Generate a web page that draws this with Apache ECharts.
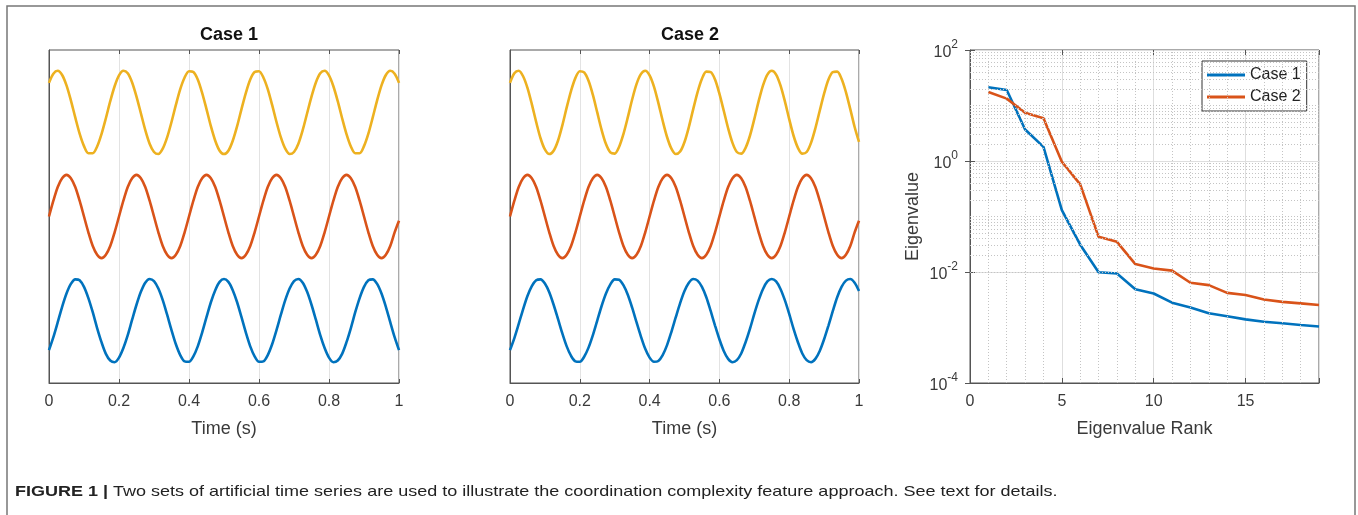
<!DOCTYPE html>
<html>
<head>
<meta charset="utf-8">
<script src="https://cdn.jsdelivr.net/npm/echarts@6/dist/echarts.min.js"></script>
<style>
html,body{margin:0;padding:0;background:#fff;}
#chart{width:1358px;height:515px;}
</style>
</head>
<body>
<div id="chart"></div>
<script>
// ---------- DATA ----------
const time = [0,0.0125,0.025,0.0375,0.05,0.0625,0.075,0.0875,0.1,0.1125,0.125,0.1375,0.15,0.1625,0.175,0.1875,0.2,0.2125,0.225,0.2375,0.25,0.2625,0.275,0.2875,0.3,0.3125,0.325,0.3375,0.35,0.3625,0.375,0.3875,0.4,0.4125,0.425,0.4375,0.45,0.4625,0.475,0.4875,0.5,0.5125,0.525,0.5375,0.55,0.5625,0.575,0.5875,0.6,0.6125,0.625,0.6375,0.65,0.6625,0.675,0.6875,0.7,0.7125,0.725,0.7375,0.75,0.7625,0.775,0.7875,0.8,0.8125,0.825,0.8375,0.85,0.8625,0.875,0.8875,0.9,0.9125,0.925,0.9375,0.95,0.9625,0.975,0.9875,1];

const case1Blue = [-0.71,-0.4,-0.04,0.33,0.65,0.88,0.99,0.97,0.81,0.54,0.2,-0.18,-0.52,-0.8,-0.96,-1,-0.89,-0.66,-0.35,0.02,0.38,0.69,0.91,1,0.95,0.77,0.49,0.14,-0.23,-0.57,-0.83,-0.98,-0.99,-0.86,-0.62,-0.29,0.08,0.44,0.73,0.93,1,0.93,0.73,0.44,0.08,-0.29,-0.62,-0.86,-0.99,-0.98,-0.83,-0.57,-0.23,0.14,0.49,0.77,0.95,1,0.91,0.69,0.38,0.02,-0.35,-0.66,-0.89,-1,-0.96,-0.8,-0.52,-0.18,0.2,0.54,0.81,0.97,0.99,0.88,0.65,0.33,-0.04,-0.4,-0.71];
const case1Red = [0,0.38,0.71,0.92,1,0.92,0.71,0.38,0,-0.38,-0.71,-0.92,-1,-0.92,-0.71,-0.38,0,0.38,0.71,0.92,1,0.92,0.71,0.38,0,-0.38,-0.71,-0.92,-1,-0.92,-0.71,-0.38,0,0.38,0.71,0.92,1,0.92,0.71,0.38,0,-0.38,-0.71,-0.92,-1,-0.92,-0.71,-0.38,0,0.38,0.71,0.92,1,0.92,0.71,0.38,0,-0.38,-0.71,-0.92,-1,-0.92,-0.71,-0.38,0,0.38,0.71,0.92,1,0.92,0.71,0.38,0,-0.38,-0.71,-0.92,-1,-0.92,-0.71,-0.38,-0.1];
const case1Yellow = [0.71,0.93,1,0.9,0.65,0.29,-0.12,-0.51,-0.81,-0.98,-0.98,-0.82,-0.52,-0.14,0.27,0.63,0.89,1,0.94,0.72,0.38,-0.02,-0.42,-0.75,-0.95,-1,-0.87,-0.6,-0.23,0.18,0.56,0.84,0.99,0.97,0.79,0.47,0.08,-0.33,-0.68,-0.92,-1,-0.92,-0.68,-0.33,0.08,0.47,0.79,0.97,0.99,0.84,0.56,0.18,-0.23,-0.6,-0.87,-1,-0.95,-0.75,-0.42,-0.02,0.38,0.72,0.94,1,0.89,0.63,0.27,-0.14,-0.52,-0.82,-0.98,-0.98,-0.81,-0.51,-0.12,0.29,0.65,0.9,1,0.93,0.71];

const case2Blue = [-0.71,-0.42,-0.08,0.27,0.59,0.83,0.97,0.99,0.89,0.68,0.38,0.04,-0.31,-0.62,-0.85,-0.98,-0.99,-0.87,-0.65,-0.35,0,0.35,0.65,0.87,0.99,0.98,0.85,0.62,0.31,-0.04,-0.38,-0.68,-0.89,-0.99,-0.97,-0.83,-0.59,-0.27,0.08,0.42,0.71,0.91,1,0.96,0.81,0.56,0.23,-0.12,-0.45,-0.73,-0.92,-1,-0.95,-0.79,-0.52,-0.2,0.16,0.49,0.76,0.94,1,0.94,0.76,0.49,0.16,-0.2,-0.52,-0.79,-0.95,-1,-0.92,-0.73,-0.45,-0.12,0.23,0.56,0.81,0.96,1,0.91,0.71];
const case2Red = [0,0.38,0.71,0.92,1,0.92,0.71,0.38,0,-0.38,-0.71,-0.92,-1,-0.92,-0.71,-0.38,0,0.38,0.71,0.92,1,0.92,0.71,0.38,0,-0.38,-0.71,-0.92,-1,-0.92,-0.71,-0.38,0,0.38,0.71,0.92,1,0.92,0.71,0.38,0,-0.38,-0.71,-0.92,-1,-0.92,-0.71,-0.38,0,0.38,0.71,0.92,1,0.92,0.71,0.38,0,-0.38,-0.71,-0.92,-1,-0.92,-0.71,-0.38,0,0.38,0.71,0.92,1,0.92,0.71,0.38,0,-0.38,-0.71,-0.92,-1,-0.92,-0.71,-0.38,-0.1];
const case2Yellow = [0.71,0.94,1,0.87,0.59,0.2,-0.23,-0.62,-0.89,-1,-0.92,-0.68,-0.31,0.12,0.52,0.83,0.99,0.96,0.76,0.42,0,-0.42,-0.76,-0.96,-0.99,-0.83,-0.52,-0.12,0.31,0.68,0.92,1,0.89,0.62,0.23,-0.2,-0.59,-0.87,-1,-0.94,-0.71,-0.35,0.08,0.49,0.81,0.98,0.97,0.79,0.45,0.04,-0.38,-0.73,-0.95,-0.99,-0.85,-0.56,-0.16,0.27,0.65,0.91,1,0.91,0.65,0.27,-0.16,-0.56,-0.85,-0.99,-0.95,-0.73,-0.38,0.04,0.45,0.79,0.97,0.98,0.81,0.49,0.08,-0.35,-0.71];

// vertical stacking of the three traces (bottom, middle, top)
const traceOffsets = [1.5, 4, 6.5];

const rank = [1,2,3,4,5,6,7,8,9,10,11,12,13,14,15,16,17,18,19];
const eigCase1 = [21.3,19,3.7,1.8,0.13,0.031,0.0099,0.0094,0.0049,0.0041,0.0028,0.0023,0.0018,0.0016,0.0014,0.00127,0.00119,0.00111,0.00104];
const eigCase2 = [17.5,13.3,7.4,5.9,0.97,0.38,0.043,0.035,0.0139,0.0116,0.0106,0.0064,0.0058,0.0042,0.00385,0.0032,0.0029,0.00272,0.00254];

const timeTicks = [0,0.2,0.4,0.6,0.8,1];
const rankTicks = [0,5,10,15];
const titles = ['Case 1','Case 2'];
const legendNames = ['Case 1','Case 2'];
const captionBold = 'FIGURE 1 |';
const captionText = ' Two sets of artificial time series are used to illustrate the coordination complexity feature approach. See text for details.';

// ---------- STYLE ----------
const FONT = 'Liberation Sans, Arial, Helvetica, sans-serif';
const BLUE = '#0072BD', ORANGE = '#D95319', YELLOW = '#EDB120';
const AX = '#555555', TXT = '#3a3a3a';

const chart = echarts.init(document.getElementById('chart'), null, {renderer:'canvas'});

const grids = [
  {left:49, top:50, width:350, height:333},
  {left:510, top:50, width:349, height:333},
  {left:970, top:50, width:349, height:333}
].map(g => Object.assign(g, {show:true, borderColor:AX, borderWidth:1, backgroundColor:'#fff', containLabel:false}));

function pairs(xs, ys, off){ return xs.map((x,i)=>[x, ys[i] + (off||0)]); }

const xAxes = [], yAxes = [];
[0,1].forEach(i=>{
  xAxes.push({
    type:'value', gridIndex:i, min:0, max:1, interval:0.2,
    axisLine:{show:true, lineStyle:{color:AX}},
    axisTick:{show:true, inside:true, length:4, lineStyle:{color:AX}},
    axisLabel:{fontSize:16, color:TXT, fontFamily:FONT, margin:11,
      formatter:v=>{ const t = timeTicks.find(t=>Math.abs(t-v)<1e-9); return t===undefined?'':String(t); }},
    splitLine:{show:true, lineStyle:{color:'#e3e3e3', width:1}},
    name:'Time (s)', nameLocation:'middle', nameGap:37,
    nameTextStyle:{fontSize:18, color:TXT, fontFamily:FONT}
  });
  xAxes.push({
    type:'value', gridIndex:i, min:0, max:1, interval:0.2, position:'top',
    axisLine:{show:false}, axisLabel:{show:false}, splitLine:{show:false},
    axisTick:{show:true, inside:true, length:4, lineStyle:{color:AX}}
  });
  yAxes.push({
    type:'value', gridIndex:i, min:0, max:8,
    axisLine:{show:true, lineStyle:{color:AX}}, axisTick:{show:false},
    axisLabel:{show:false}, splitLine:{show:false}
  });
});
// panel 3
xAxes.push({
  type:'value', gridIndex:2, min:0, max:19, interval:5,
  axisLine:{show:true, lineStyle:{color:AX}},
  axisTick:{show:true, inside:true, length:5, lineStyle:{color:AX}},
  axisLabel:{fontSize:16, color:TXT, fontFamily:FONT, margin:11,
    formatter:v=> rankTicks.indexOf(v)>=0 ? String(v) : ''},
  splitLine:{show:true, lineStyle:{color:'#dedede', width:1}},
  name:'Eigenvalue Rank', nameLocation:'middle', nameGap:37,
  nameTextStyle:{fontSize:18, color:TXT, fontFamily:FONT}
});
xAxes.push({
  type:'value', gridIndex:2, min:0, max:19, interval:5, position:'top',
  axisLine:{show:false}, axisLabel:{show:false}, splitLine:{show:false},
  axisTick:{show:true, inside:true, length:5, lineStyle:{color:AX}}
});
yAxes.push({
  type:'log', logBase:10, gridIndex:2, min:0.0001, max:100, interval:2,
  axisLine:{show:true, lineStyle:{color:AX}},
  axisTick:{show:true, inside:true, length:5, lineStyle:{color:AX}},
  axisLabel:{color:TXT, fontFamily:FONT, margin:12,
    formatter:v=>'{b|10}{s|' + Math.round(Math.log10(v)) + '}',
    rich:{b:{fontSize:16, color:TXT, fontFamily:FONT, verticalAlign:'bottom', lineHeight:22},
          s:{fontSize:12, color:TXT, fontFamily:FONT, verticalAlign:'top', lineHeight:22, padding:[0,0,12,0]}}},
  splitLine:{show:true, lineStyle:{color:'#dedede', width:1}},
  name:'Eigenvalue', nameLocation:'middle', nameGap:48,
  nameTextStyle:{fontSize:18, color:TXT, fontFamily:FONT}
});
yAxes.push({
  type:'log', logBase:10, gridIndex:2, min:0.0001, max:100, interval:2, position:'right',
  axisLine:{show:false}, axisLabel:{show:false}, splitLine:{show:false},
  axisTick:{show:true, inside:true, length:5, lineStyle:{color:AX}}
});

// minor grid (dotted) for panel 3
const minorX = [];
for (let r=1; r<19; r++) if (r%5!==0) minorX.push({xAxis:r});
const minorY = [];
for (let e=-4; e<2; e++) for (let m=1; m<10; m++) {
  if (m===1 && e%2===0) continue; // labelled decades drawn by split lines
  minorY.push({yAxis: m*Math.pow(10,e)});
}

function sine(name, xs, ys, off, color, xi, yi){
  return {type:'line', name, xAxisIndex:xi, yAxisIndex:yi, data:pairs(xs, ys, off),
    showSymbol:false, symbol:'none', smooth:0.3, lineStyle:{color, width:2.6}, itemStyle:{color}, z:3, silent:true};
}

const series = [
  sine('c1y', time, case1Yellow, traceOffsets[2], YELLOW, 0, 0),
  sine('c1r', time, case1Red, traceOffsets[1], ORANGE, 0, 0),
  sine('c1b', time, case1Blue, traceOffsets[0], BLUE, 0, 0),
  sine('c2y', time, case2Yellow, traceOffsets[2], YELLOW, 2, 1),
  sine('c2r', time, case2Red, traceOffsets[1], ORANGE, 2, 1),
  sine('c2b', time, case2Blue, traceOffsets[0], BLUE, 2, 1),
  {type:'line', name:'grid', xAxisIndex:4, yAxisIndex:2, data:[], silent:true, z:1,
    markLine:{silent:true, symbol:['none','none'], label:{show:false}, animation:false,
      lineStyle:{type:[1,2], color:'#c4c4c4', width:1}, emphasis:{disabled:true},
      data: minorX.concat(minorY)}},
  {type:'line', name:legendNames[0], xAxisIndex:4, yAxisIndex:2, data:pairs(rank, eigCase1),
    showSymbol:false, symbol:'none', lineStyle:{color:BLUE, width:2.6}, itemStyle:{color:BLUE}, z:4},
  {type:'line', name:legendNames[1], xAxisIndex:4, yAxisIndex:2, data:pairs(rank, eigCase2),
    showSymbol:false, symbol:'none', lineStyle:{color:ORANGE, width:2.6}, itemStyle:{color:ORANGE}, z:4}
];

const option = {
  animation:false,
  backgroundColor:'#fff',
  textStyle:{fontFamily:FONT},
  title:[
    {text:titles[0], left:224, top:21, textAlign:'center', textStyle:{fontSize:18, fontWeight:'bold', color:'#111', fontFamily:FONT}},
    {text:titles[1], left:685, top:21, textAlign:'center', textStyle:{fontSize:18, fontWeight:'bold', color:'#111', fontFamily:FONT}}
  ],
  legend:{
    data:legendNames.map(n=>({name:n, icon:'rect'})), orient:'vertical', left:1202, top:61,
    padding:[6,6,6,5], itemGap:6, itemWidth:38, itemHeight:3,
    backgroundColor:'#fff', borderColor:'#333', borderWidth:1, borderRadius:0,
    textStyle:{fontSize:16, color:'#222', fontFamily:FONT, lineHeight:16},
    selectedMode:false
  },
  grid:grids, xAxis:xAxes, yAxis:yAxes, series,
  graphic:[
    {type:'rect', shape:{x:7, y:6, width:1348, height:600}, style:{fill:'none', stroke:'#777', lineWidth:1.5}, silent:true, z:-10},
    {type:'text', x:15, y:484, scaleX:1.2, silent:true,
      style:{x:0, y:0, text:'{b|' + captionBold + '}{n|' + captionText + '}',
        rich:{b:{fontSize:15, fontWeight:'bold', fill:'#222', fontFamily:FONT},
              n:{fontSize:15, fill:'#222', fontFamily:FONT}}}}
  ]
};
chart.setOption(option);
</script>
</body>
</html>
